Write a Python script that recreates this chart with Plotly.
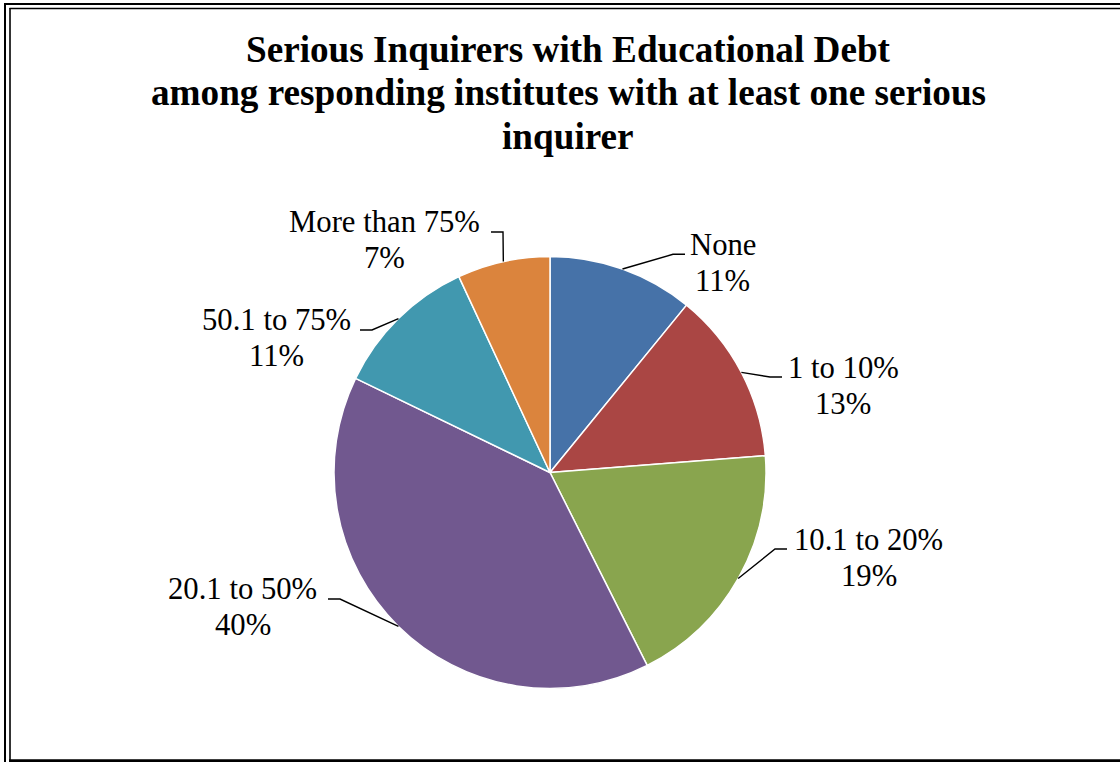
import math
import plotly.graph_objects as go

# Survey shares of serious inquirers carrying educational debt
categories = ["None", "1 to 10%", "10.1 to 20%", "20.1 to 50%", "50.1 to 75%", "More than 75%"]
shares = [11, 13, 19, 40, 11, 7]
colors = ["#4672A8", "#AA4644", "#89A54E", "#71588F", "#4198AF", "#DB843D"]

title_lines = [
    "Serious Inquirers with Educational Debt",
    "among responding institutes with at least one serious",
    "inquirer",
]

W, H = 1120, 762
FONT = "Liberation Serif"
LABEL_SIZE = 30.7
TITLE_SIZE = 37.2

# pie geometry in pixels
CX, CY, R = 550, 472.5, 216

# label layout: text centre x, first-line baseline y, end of leader line
label_pos = [(722.5, 255), (843, 378), (868.5, 550), (242.5, 599.5), (276, 330.5), (384.5, 232.3)]
leader_end = [(685, 254.3), (782, 377), (787, 549), (328, 599), (360, 330), (491, 232)]
LINE_GAP = 36.2
ELBOW = 12


def px(x):
    return x / W


def py(y):
    return 1 - y / H


def mid(baseline, size):
    # vertical centre of a single text line from its baseline
    return baseline - 0.3375 * size


fig = go.Figure(
    go.Pie(
        labels=categories,
        values=shares,
        sort=False,
        direction="clockwise",
        rotation=0,
        marker=dict(colors=colors, line=dict(color="white", width=1.5)),
        textinfo="none",
        hoverinfo="label+percent",
        showlegend=False,
        domain=dict(x=[px(CX - R), px(CX + R)], y=[py(CY + R), py(CY - R)]),
    )
)

annotations = []
shapes = []

# title, one line at a time
for i, line in enumerate(title_lines):
    baseline = 61.7 + i * 43.5
    annotations.append(dict(
        text=f"<b>{line}</b>", x=px(568), y=py(mid(baseline, TITLE_SIZE)),
        xref="paper", yref="paper", xanchor="center", yanchor="middle",
        showarrow=False, font=dict(family=FONT, size=TITLE_SIZE, color="black"),
    ))

# slice labels with elbow leader lines
total = sum(shares)
cum = 0
for name, val, (lx, lb), (ex, ey) in zip(categories, shares, label_pos, leader_end):
    theta = math.radians((cum + val / 2) / total * 360)
    cum += val
    sx = CX + R * math.sin(theta)
    sy = CY - R * math.cos(theta)
    elbow_x = ex + ELBOW if sx > ex else ex - ELBOW
    shapes.append(dict(
        type="path", xref="paper", yref="paper",
        path=f"M {px(sx)} {py(sy)} L {px(elbow_x)} {py(ey)} L {px(ex)} {py(ey)}",
        line=dict(color="black", width=1.4),
    ))
    pct = round(val / total * 100)
    for j, txt in enumerate([name, f"{pct}%"]):
        annotations.append(dict(
            text=txt, x=px(lx), y=py(mid(lb + j * LINE_GAP, LABEL_SIZE)),
            xref="paper", yref="paper", xanchor="center", yanchor="middle",
            showarrow=False, font=dict(family=FONT, size=LABEL_SIZE, color="black"),
        ))

# double frame around the chart area
frame = [
    (4, 4, W, 4, 2),
    (9.5, 8.5, W, 8.5, 1.6),
    (5, 3, 5, H, 2),
    (10, 8, 10, H, 1.6),
    (9, 760.8, W, 760.8, 3),
]
for x0, y0, x1, y1, w in frame:
    shapes.append(dict(
        type="line", xref="paper", yref="paper",
        x0=px(x0), y0=py(y0), x1=px(x1), y1=py(y1),
        line=dict(color="black", width=w),
    ))

fig.update_layout(
    width=W, height=H,
    margin=dict(l=0, r=0, t=0, b=0),
    paper_bgcolor="white", plot_bgcolor="white",
    annotations=annotations, shapes=shapes,
)

fig.write_html("out.html")
